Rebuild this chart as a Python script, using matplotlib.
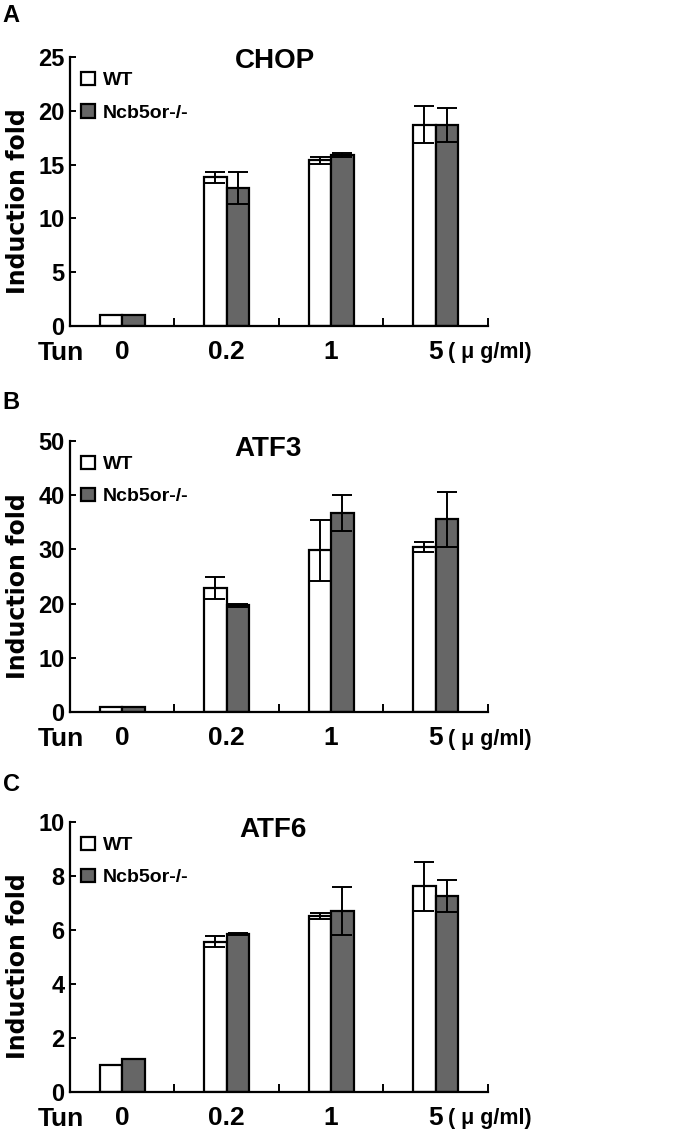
import numpy as np
import matplotlib
matplotlib.use("Agg")
from matplotlib import pyplot as plt

# doses of tunicamycin (ug/ml)
doses = ['0', '0.2', '1', '5']

chop_wt = [1.0, 13.8, 15.4, 18.7]
chop_wt_err = [0.0, 0.5, 0.3, 1.7]
chop_ko = [1.0, 12.8, 15.9, 18.7]
chop_ko_err = [0.0, 1.5, 0.15, 1.6]

atf3_wt = [1.0, 22.9, 29.8, 30.5]
atf3_wt_err = [0.0, 2.0, 5.6, 0.9]
atf3_ko = [1.0, 19.7, 36.7, 35.5]
atf3_ko_err = [0.0, 0.3, 3.4, 5.1]

atf6_wt = [1.0, 5.55, 6.5, 7.6]
atf6_wt_err = [0.0, 0.2, 0.1, 0.9]
atf6_ko = [1.2, 5.85, 6.7, 7.25]
atf6_ko_err = [0.0, 0.04, 0.88, 0.6]

ARIAL = ['Liberation Sans', 'DejaVu Sans']
GRAY = '#666666'


def draw_panel(fig, rect, letter, name, wt, wt_err, ko, ko_err, ymax, step, title_xy):
    ax = fig.add_axes(rect)
    x = np.arange(len(doses))
    w = 0.215
    ax.bar(x - w / 2, wt, w, color='white', edgecolor='black', linewidth=1.6, label='WT', zorder=2)
    ax.bar(x + w / 2, ko, w, color=GRAY, edgecolor='black', linewidth=1.6, label='Ncb5or-/-', zorder=2)
    ax.errorbar(x - w / 2, wt, yerr=wt_err, fmt='none', ecolor='black', elinewidth=1.4,
                capsize=7, capthick=1.4, zorder=3)
    ax.errorbar(x + w / 2, ko, yerr=ko_err, fmt='none', ecolor='black', elinewidth=1.4,
                capsize=7, capthick=1.4, zorder=3)

    ax.set_xlim(-0.5, 3.5)
    ax.set_ylim(0, ymax)
    for s in ['top', 'right']:
        ax.spines[s].set_visible(False)
    for s in ['left', 'bottom']:
        ax.spines[s].set_linewidth(1.6)

    ax.set_yticks(np.arange(0, ymax + step / 2, step))
    ax.tick_params(axis='y', direction='in', length=4, width=1.4, pad=4)
    for lab in ax.get_yticklabels():
        lab.set_fontfamily(ARIAL)
        lab.set_fontweight('bold')
        lab.set_fontsize(17)

    ax.set_xticks(x)
    ax.set_xticklabels(doses, fontfamily=ARIAL, fontweight='bold', fontsize=19)
    ax.set_xticks([0.5, 1.5, 2.5, 3.5], minor=True)
    ax.tick_params(axis='x', which='major', length=0, pad=10)
    ax.tick_params(axis='x', which='minor', direction='in', length=6, width=1.4)

    ax.text(-0.59, -0.1, 'Tun', transform=ax.get_xaxis_transform(), ha='center', va='center',
            fontfamily=ARIAL, fontweight='bold', fontsize=19, clip_on=False)
    ax.text(3.12, -0.1, '( μ g/ml)', transform=ax.get_xaxis_transform(), ha='left', va='center',
            fontfamily=ARIAL, fontweight='bold', fontsize=15.5, clip_on=False)

    ax.set_ylabel('Induction fold', fontfamily='DejaVu Sans', fontweight='bold', fontsize=17,
                  va='center')
    ax.yaxis.set_label_coords(-0.124, 0.465)

    ax.text(title_xy[0], title_xy[1], name, transform=ax.transAxes, ha='center', va='center',
            fontfamily=ARIAL, fontweight='bold', fontsize=20)

    ax.legend(loc='upper left', bbox_to_anchor=(0.027, 0.945), frameon=False,
              prop={'family': ARIAL, 'weight': 'bold', 'size': 14},
              handlelength=0.7, handleheight=0.7, handletextpad=0.4,
              labelspacing=0.75, borderpad=0, borderaxespad=0)

    fig.text(letter[1], letter[2], letter[0], ha='left', va='center',
             fontfamily=ARIAL, fontweight='bold', fontsize=17)
    return ax


fig = plt.figure(figsize=(6.84, 11.33), dpi=100)

draw_panel(fig, [0.1023, 0.7123, 0.611, 0.2374], ('A', 0.004, 0.986), 'CHOP',
           chop_wt, chop_wt_err, chop_ko, chop_ko_err, 25, 5, (0.49, 0.985))
draw_panel(fig, [0.1023, 0.3713, 0.611, 0.2397], ('B', 0.004, 0.645), 'ATF3',
           atf3_wt, atf3_wt_err, atf3_ko, atf3_ko_err, 50, 10, (0.474, 0.97))
draw_panel(fig, [0.1023, 0.0365, 0.611, 0.2383], ('C', 0.004, 0.308), 'ATF6',
           atf6_wt, atf6_wt_err, atf6_ko, atf6_ko_err, 10, 2, (0.486, 0.97))

fig.savefig('out.png', dpi=100)
